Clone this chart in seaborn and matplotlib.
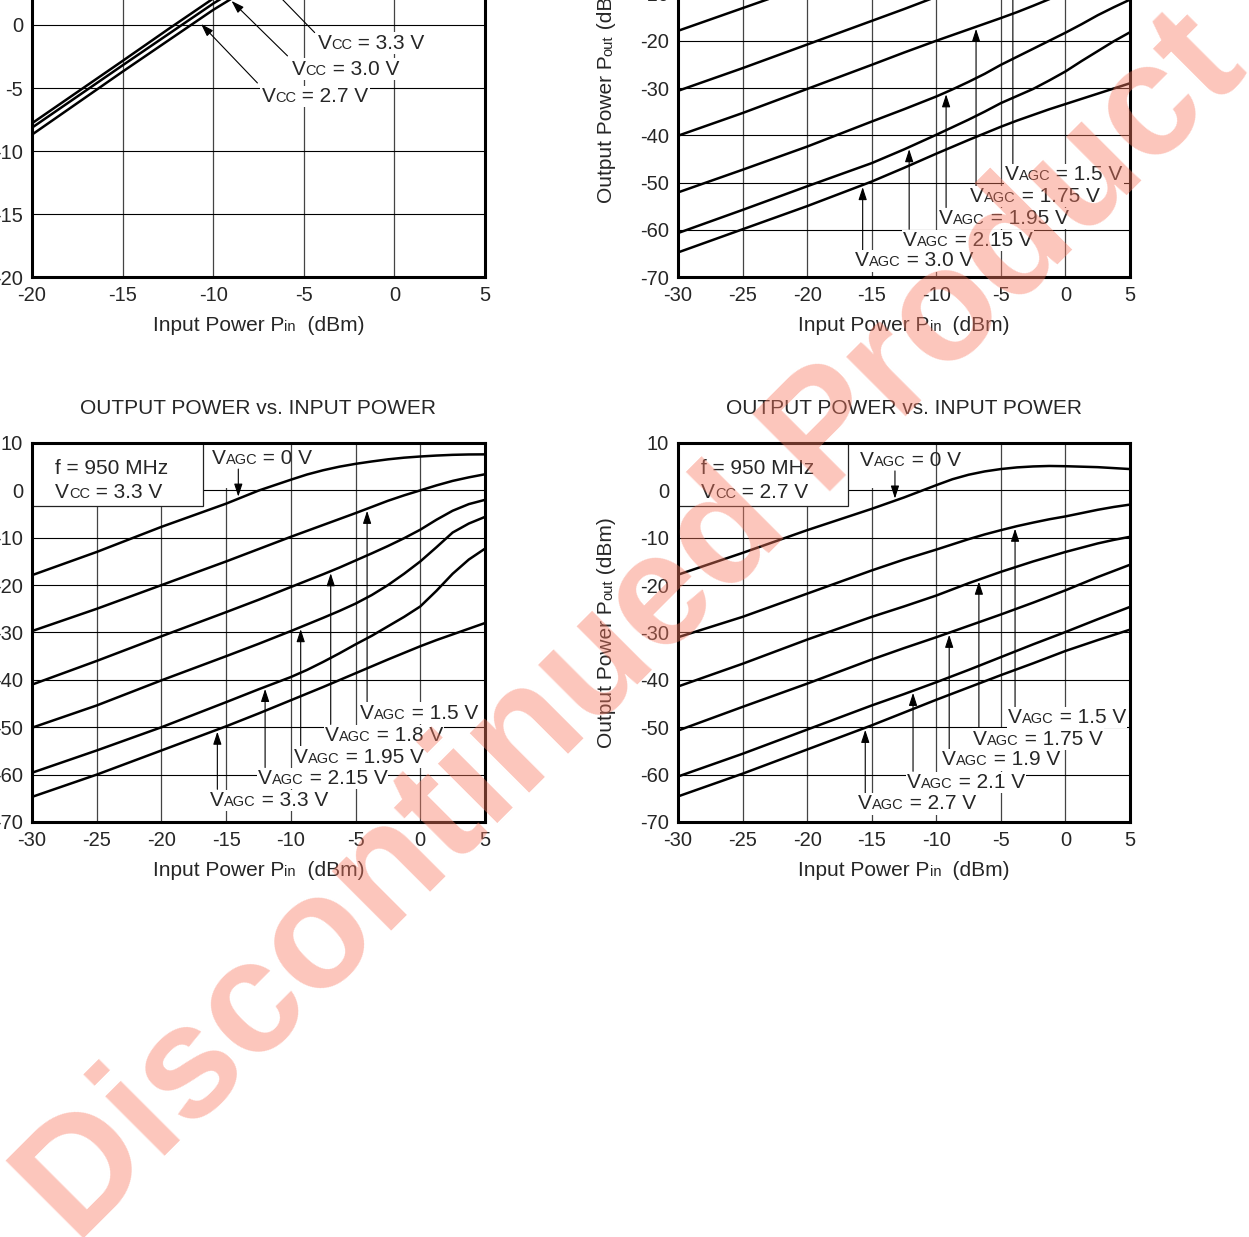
"""
Output power vs. input power curves (datasheet page, cropped) with watermark.
"""
import numpy as np
import pandas as pd
import matplotlib
matplotlib.use('Agg')
import matplotlib.pyplot as plt
import seaborn as sns
from matplotlib.offsetbox import TextArea, HPacker, AnnotationBbox
from matplotlib.patches import Rectangle

# ---------------- data ----------------
# top-left panel: Pout vs Pin for three supply voltages
pin_tl = [-20, -15, -12.5, -10, -7.5, -5, -2.5, 0, 2.5, 5]
tl_vcc_33 = [-7.8, -2.85, -0.35, 2.1, 4.3, 5.8, 6.8, 7.4, 7.7, 7.9]
tl_vcc_30 = [-8.15, -3.2, -0.75, 1.7, 3.9, 5.4, 6.4, 7.0, 7.3, 7.5]
tl_vcc_27 = [-8.7, -3.7, -1.25, 1.2, 3.4, 4.8, 5.7, 6.2, 6.5, 6.6]

# AGC panels share the input power grid
pin = [-30, -25, -20, -15, -12.5, -10, -8.75, -7.5, -6.25, -5,
       -3.75, -2.5, -1.25, 0, 1.25, 2.5, 3.75, 5]

# top-right panel
tr_agc = ['0', '1.5', '1.75', '1.95', '2.15', '3.0']
tr_0 = [-17.9, -13.1, -8.3, -3.8, -1.5, 0.8, 1.9, 2.8, 3.6, 4.3, 4.8, 5.2, 5.45, 5.6, 5.65, 5.6, 5.5, 5.4]
tr_150 = [-30.6, -25.8, -20.8, -15.8, -13.3, -10.7, -9.5, -8.3, -7.1, -6.0, -4.9, -3.8, -2.8, -1.8, -0.9, 0.0, 0.8, 1.5]
tr_175 = [-40.1, -35.3, -30.2, -25.1, -22.5, -20.0, -18.8, -17.6, -16.4, -15.2, -13.95, -12.6, -11.2, -9.8, -8.4, -7.0, -5.7, -4.5]
tr_195 = [-52.1, -47.3, -42.4, -37.1, -34.5, -31.8, -30.3, -28.7, -27.0, -25.1, -23.4, -21.7, -20.0, -18.3, -16.5, -14.6, -12.9, -11.3]
tr_215 = [-60.7, -55.8, -50.8, -45.9, -43.0, -39.9, -38.3, -36.7, -35.0, -33.2, -31.7, -30.2, -28.4, -26.5, -24.3, -22.2, -20.1, -18.2]
tr_300 = [-64.8, -59.9, -55.0, -49.8, -46.9, -43.9, -42.45, -41.0, -39.6, -38.2, -36.9, -35.7, -34.5, -33.4, -32.3, -31.2, -30.1, -29.0]

# bottom-left panel (Vcc = 3.3 V)
bl_agc = ['0', '1.5', '1.8', '1.95', '2.15', '3.3']
bl_0 = [-17.9, -13.0, -7.7, -2.8, -0.05, 2.25, 3.35, 4.25, 5.0, 5.6, 6.1, 6.55, 6.9, 7.15, 7.35, 7.5, 7.58, 7.6]
bl_150 = [-29.7, -25.0, -20.0, -15.0, -12.4, -9.8, -8.55, -7.3, -6.05, -4.8, -3.5, -2.2, -1.05, 0.0, 1.05, 2.0, 2.75, 3.4]
bl_180 = [-41.0, -36.0, -30.8, -25.7, -23.1, -20.4, -19.05, -17.7, -16.3, -14.8, -13.3, -11.75, -10.1, -8.3, -6.2, -4.3, -2.9, -2.0]
bl_195 = [-50.1, -45.4, -40.1, -35.0, -32.4, -29.7, -28.3, -26.9, -25.45, -23.9, -22.1, -20.0, -17.6, -15.0, -12.0, -8.9, -7.0, -5.6]
bl_215 = [-59.6, -54.9, -50.0, -44.7, -42.0, -39.4, -37.9, -36.2, -34.4, -32.5, -30.7, -28.7, -26.7, -24.5, -21.2, -17.6, -14.6, -12.3]
bl_330 = [-64.7, -60.0, -54.9, -49.8, -47.1, -44.3, -42.9, -41.5, -40.05, -38.6, -37.15, -35.7, -34.3, -32.9, -31.6, -30.4, -29.2, -28.0]

# bottom-right panel (Vcc = 2.7 V)
br_agc = ['0', '1.5', '1.75', '1.9', '2.1', '2.7']
br_0 = [-17.8, -13.2, -8.4, -3.9, -1.5, 1.1, 2.35, 3.3, 4.0, 4.5, 4.85, 5.05, 5.15, 5.1, 5.0, 4.9, 4.7, 4.5]
br_150 = [-31.0, -26.7, -21.8, -16.9, -14.6, -12.5, -11.4, -10.3, -9.3, -8.4, -7.55, -6.8, -6.1, -5.5, -4.8, -4.1, -3.5, -3.0]
br_175 = [-41.4, -36.6, -31.5, -26.7, -24.5, -22.2, -20.9, -19.6, -18.4, -17.2, -16.1, -15.0, -14.0, -13.0, -12.1, -11.2, -10.45, -9.8]
br_190 = [-50.7, -45.7, -40.8, -35.7, -33.3, -31.0, -29.8, -28.6, -27.4, -26.2, -24.95, -23.7, -22.4, -21.1, -19.7, -18.3, -17.0, -15.7]
br_210 = [-60.4, -55.6, -50.5, -45.4, -43.0, -40.5, -39.2, -37.9, -36.55, -35.2, -33.85, -32.5, -31.2, -29.9, -28.55, -27.2, -25.9, -24.6]
br_270 = [-64.6, -59.8, -54.7, -49.6, -46.9, -44.2, -42.9, -41.6, -40.3, -39.0, -37.75, -36.5, -35.2, -33.9, -32.75, -31.6, -30.5, -29.4]

# ---------------- style ----------------
sns.set_style('white')
plt.rcParams['font.family'] = ['Liberation Sans', 'DejaVu Sans']
plt.rcParams['axes.unicode_minus'] = False

BIG = 15
SMALL = 10.5
TICK = 14.5
TITLE = 'OUTPUT POWER vs. INPUT POWER'

fig = plt.figure(figsize=(12.49, 12.37), dpi=100)
ax_tl = fig.add_axes([0.02562, 0.77607, 0.36269, 0.30558])
ax_tr = fig.add_axes([0.54283, 0.77607, 0.36189, 0.30558])
ax_bl = fig.add_axes([0.02562, 0.33549, 0.36269, 0.30639])
ax_br = fig.add_axes([0.54283, 0.33549, 0.36189, 0.30639])


def rich(ax, parts, xy, coords='data', align=(0, 0.5), white=False, size=BIG):
    """Text with small same-baseline subscripts, e.g. V + AGC."""
    kids = [TextArea(s, textprops=dict(fontsize=SMALL if small else size))
            for s, small in parts]
    box = HPacker(children=kids, align='baseline', pad=0, sep=0)
    ab = AnnotationBbox(box, xy, xycoords=coords, box_alignment=align,
                        frameon=white, pad=0.08, annotation_clip=False,
                        bboxprops=dict(facecolor='white', edgecolor='none'))
    ab.set_zorder(5)
    ax.add_artist(ab)


def arrow(ax, tip, tail):
    ax.annotate('', xy=tip, xytext=tail, annotation_clip=False,
                arrowprops=dict(arrowstyle='-|>,head_length=0.55,head_width=0.18',
                                color='black', lw=0.8, shrinkA=0, shrinkB=0,
                                mutation_scale=14), zorder=4)


def draw_curves(ax, x, curves, names, xlim, ylim, xstep, ystep):
    df = pd.DataFrame({
        'pin': np.tile(x, len(curves)),
        'pout': np.concatenate(curves),
        'curve': np.repeat(names, len(x)),
    })
    sns.lineplot(data=df, x='pin', y='pout', hue='curve', palette=['black'] * len(curves),
                 legend=False, linewidth=1.8, estimator=None, sort=False, ax=ax, zorder=3)
    ax.set_xlim(xlim)
    ax.set_ylim(ylim)
    ax.set_xticks(np.arange(xlim[0], xlim[1] + 1, xstep))
    ax.set_yticks(np.arange(ylim[0], ylim[1] + 1, ystep))
    ax.set_xlabel('')
    ax.set_ylabel('')
    ax.set_axisbelow(True)
    ax.grid(True, axis='y', color='black', lw=0.8)
    ax.grid(True, axis='x', color='#444444', lw=0.9)
    ax.tick_params(length=0, labelsize=TICK)
    ax.tick_params(axis='x', pad=6.5)
    ax.tick_params(axis='y', pad=6.5)
    for s in ax.spines.values():
        s.set_linewidth(2.2)
        s.set_color('black')
        s.set_zorder(6)
    rich(ax, [('Input Power P', 0), ('in', 1), ('  (dBm)', 0)], (0.5, -0.127),
         coords='axes fraction', align=(0.5, 0.5))


def ylabel_rot(ax, x0=-0.146, y0=0.195):
    t1 = ax.text(x0, y0, 'Output Power P', transform=ax.transAxes, rotation=90,
                 rotation_mode='anchor', ha='left', va='baseline', fontsize=BIG)
    t2 = ax.annotate('out', xy=(x0, 1), xycoords=(ax.transAxes, t1), rotation=90,
                     rotation_mode='anchor', ha='left', va='baseline', fontsize=SMALL)
    ax.annotate(' (dBm)', xy=(x0, 1), xycoords=(ax.transAxes, t2), rotation=90,
                rotation_mode='anchor', ha='left', va='baseline', fontsize=BIG)


def agc_labels(ax, labels, arrow_x, curves):
    # labels: (voltage text, left x, center y); curves[1:] match labels in order
    for (v, lx, ly), ax_x, curve in zip(labels, arrow_x, curves):
        tip = np.interp(ax_x, pin, curve) - 0.45
        arrow(ax, (ax_x, tip), (ax_x, ly + 2.3))
        rich(ax, [('V', 0), ('AGC', 1), (f' = {v} V', 0)], (lx, ly), white=True)


def info_box(ax, vcc, zero_lbl, zero_x, curve0):
    ax.add_patch(Rectangle((-30, -3.2), 13.2, 13.2, facecolor='white', edgecolor='#222222',
                           lw=0.9, zorder=3.5))
    rich(ax, [('f = 950 MHz', 0)], (-28.2, 4.7))
    rich(ax, [('V', 0), ('CC', 1), (f' = {vcc} V', 0)], (-28.2, -0.4))
    ax.add_patch(Rectangle((zero_lbl[0] - 0.2, 0.4), 6.0, 9.6, facecolor='white',
                           edgecolor='none', zorder=1.5))
    tip = np.interp(zero_x, pin, curve0) + 0.45
    arrow(ax, (zero_x, tip), (zero_x, zero_lbl[1] - 2.3))
    rich(ax, [('V', 0), ('AGC', 1), (' = 0 V', 0)], zero_lbl)


# ---------------- top-left ----------------
draw_curves(ax_tl, pin_tl, [tl_vcc_33, tl_vcc_30, tl_vcc_27], ['3.3', '3.0', '2.7'],
            (-20, 5), (-20, 10), 5, 5)
for (v, lx, ly), tip, tail in zip(
        [('3.3', -4.24, -1.43), ('3.0', -5.67, -3.5), ('2.7', -7.33, -5.65)],
        [(-7.75, 4.35), (-8.99, 1.91), (-10.67, 0.08)],
        [(-4.4, -0.6), (-5.9, -2.45), (-7.56, -4.6)]):
    arrow(ax_tl, tip, tail)
    rich(ax_tl, [('V', 0), ('CC', 1), (f' = {v} V', 0)], (lx, ly), white=True)

# ---------------- top-right ----------------
tr_curves = [tr_0, tr_150, tr_175, tr_195, tr_215, tr_300]
draw_curves(ax_tr, pin, tr_curves, tr_agc, (-30, 5), (-70, 10), 5, 10)
ylabel_rot(ax_tr)
agc_labels(ax_tr,
           [('1.5', -4.7, -48.4), ('1.75', -7.38, -53.0), ('1.95', -9.78, -57.6),
            ('2.15', -12.55, -62.2), ('3.0', -16.29, -66.6)],
           [-4.07, -6.92, -9.24, -12.1, -15.7], tr_curves[1:])

# ---------------- bottom-left ----------------
bl_curves = [bl_0, bl_150, bl_180, bl_195, bl_215, bl_330]
draw_curves(ax_bl, pin, bl_curves, bl_agc, (-30, 5), (-70, 10), 5, 10)
ax_bl.text(0.5, 1.0765, TITLE, transform=ax_bl.transAxes, ha='center', va='baseline',
           fontsize=BIG)
info_box(ax_bl, '3.3', (-16.1, 6.8), -14.06, bl_0)
agc_labels(ax_bl,
           [('1.5', -4.65, -47.0), ('1.8', -7.36, -51.7), ('1.95', -9.75, -56.3),
            ('2.15', -12.53, -60.8), ('3.3', -16.24, -65.4)],
           [-4.11, -6.92, -9.24, -11.99, -15.68], bl_curves[1:])

# ---------------- bottom-right ----------------
br_curves = [br_0, br_150, br_175, br_190, br_210, br_270]
draw_curves(ax_br, pin, br_curves, br_agc, (-30, 5), (-70, 10), 5, 10)
ax_br.text(0.5, 1.0765, TITLE, transform=ax_br.transAxes, ha='center', va='baseline',
           fontsize=BIG)
ylabel_rot(ax_br)
info_box(ax_br, '2.7', (-15.9, 6.4), -13.2, br_0)
agc_labels(ax_br,
           [('1.5', -4.44, -48.0), ('1.75', -7.15, -52.5), ('1.9', -9.55, -56.9),
            ('2.1', -12.26, -61.6), ('2.7', -16.05, -66.2)],
           [-3.9, -6.7, -9.0, -11.8, -15.5], br_curves[1:])

# ---------------- watermark ----------------
fig.text(0.5308, 0.4673, 'Discontinued Product', rotation=45, rotation_mode='anchor',
         ha='center', va='baseline', fontsize=115, fontweight='bold',
         color='#FA7A62', alpha=0.43, zorder=10)

fig.savefig('out.png', dpi=100)
